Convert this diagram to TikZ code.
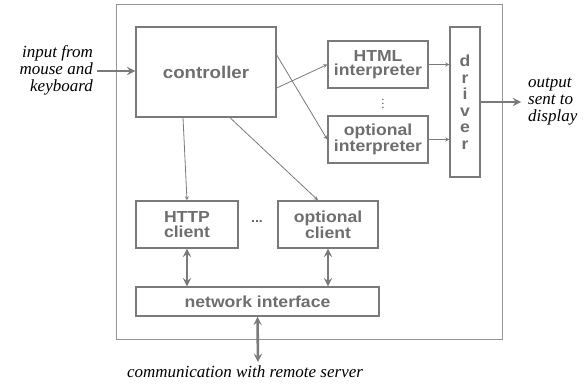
\documentclass[tikz,border=0pt]{standalone}
\usepackage{fontspec}
\setmainfont{Liberation Serif}
\newfontfamily\helv[FakeStretch=1.1]{Liberation Sans}
\usetikzlibrary{positioning}
\definecolor{boxgray}{HTML}{7A7A7A}
\definecolor{txtgray}{HTML}{6E6E6E}
\tikzstyle{module} = [rectangle, draw=boxgray, line width=1.4pt, text centered, inner sep=0pt, font=\helv\bfseries\fontsize{16}{14.5}\selectfont, text=txtgray]
\tikzstyle{outside} = [font=\itshape\fontsize{17}{17}\selectfont, inner sep=0pt]
\tikzstyle{thin} = [draw=boxgray, line width=0.8pt, ->, >=stealth]
\tikzstyle{fat} = [draw=boxgray, line width=2.6pt, ->, >=stealth]

\begin{document}
\begin{tikzpicture}[x=1pt, y=-1pt]
  \useasboundingbox (0,0) rectangle (585,385);
  \node (browser) [draw=boxgray!80, line width=1pt, minimum width=386pt, minimum height=334pt, inner sep=0pt] at (309,172) {};

  \node (controller) [module, minimum width=140pt, minimum height=90pt, font=\helv\bfseries\fontsize{17}{17}\selectfont] at (206,72) {controller};
  \node (htmlint) [module, minimum width=100pt, minimum height=47pt, align=center] at (378,64.5) {HTML\\interpreter};
  \node (vdots) [text=boxgray!80!black, inner sep=0pt, font=\fontsize{13}{13}\selectfont] at (383,101) {$\vdots$};
  \node (optint) [module, minimum width=100pt, minimum height=47pt, align=center] at (378,139.5) {optional\\interpreter};
  \node (driver) [module, minimum width=30pt, minimum height=150pt, align=center, font=\helv\bfseries\fontsize{16}{16.5}\selectfont] at (465,102) {d\\r\\i\\v\\e\\r};

  \node (httpclient) [module, minimum width=102pt, minimum height=47pt, align=center] at (187,224.5) {HTTP\\client};
  \node (optclient) [module, minimum width=100pt, minimum height=47pt, align=center] at (328,224.5) {optional\\client};
  \node (hdots) [text=boxgray!80!black, font=\helv\bfseries\fontsize{13}{13}\selectfont, inner sep=0pt] at (257,222) {...};
  \node (netif) [module, minimum width=243pt, minimum height=29pt] at (257.5,301.5) {network interface};

  % outside world
  \node (input) [outside, anchor=east, align=right] at (93,70) {input from\\mouse and\\keyboard};
  \node (output) [outside, anchor=west, align=left] at (528,102) {output\\sent to\\display};
  \node (remote) [outside, anchor=north] at (245,365) {communication with remote server};
  \coordinate (inend) at (97,71);
  \coordinate (outend) at (521,102);
  \coordinate (commend) at (258,362);

  \draw [fat] (inend) -- (controller.west |- inend);
  \draw [fat] (driver.east) -- (outend);

  \draw [thin] ([yshift=-16pt]controller.east) -- (htmlint.west);
  \draw [thin] ([yshift=17pt]controller.east) -- (optint.west);
  \draw [thin] ([xshift=-23pt]controller.south) -- (httpclient.north);
  \draw [thin] ([xshift=24pt]controller.south) -- ([xshift=-10pt]optclient.north);
  \draw [thin] (htmlint.east) -- (driver.west |- htmlint.east);
  \draw [thin] (optint.east) -- (driver.west |- optint.east);

  \draw [fat, <->] (httpclient.south) -- (netif.north -| httpclient.south);
  \draw [fat, <->] (optclient.south) -- (netif.north -| optclient.south);
  \draw [fat, <->] (netif.south) -- (commend);
\end{tikzpicture}
\end{document}
